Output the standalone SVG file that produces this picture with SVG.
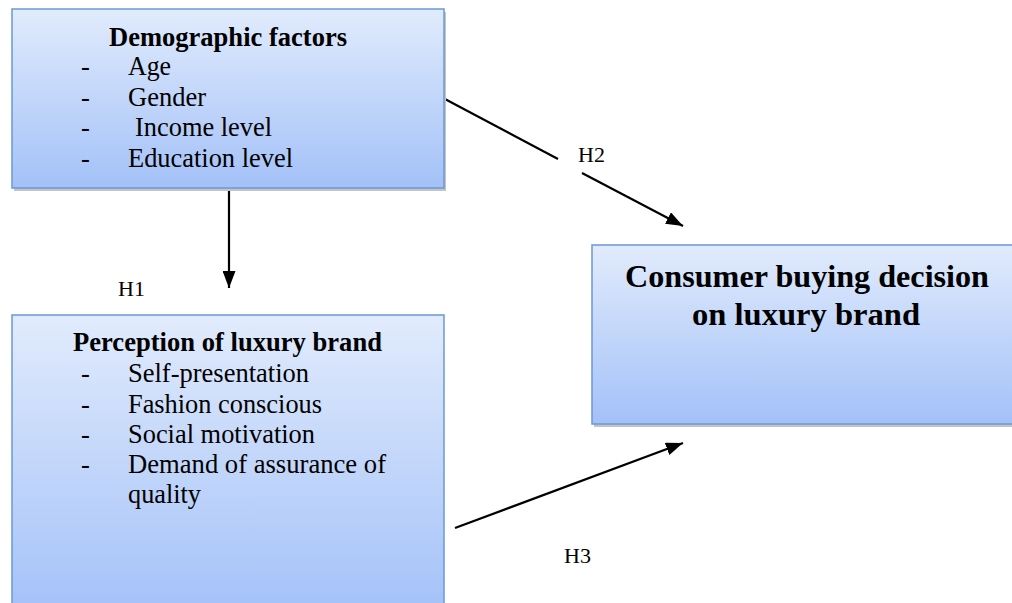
<svg xmlns="http://www.w3.org/2000/svg" width="1012" height="603" viewBox="0 0 1012 603">
<defs>
<linearGradient id="g" x1="0" y1="0" x2="0" y2="1">
<stop offset="0" stop-color="#e1ebfc"/>
<stop offset="1" stop-color="#a3c1f8"/>
</linearGradient>
<marker id="ah" viewBox="0 0 17 13" refX="17" refY="6.5" markerWidth="17" markerHeight="13" markerUnits="userSpaceOnUse" orient="auto">
<path d="M0,0 L17,6.5 L0,13 Z" fill="#000"/>
</marker>
<style>
.box{fill:url(#g);stroke:#6a98d8;stroke-width:1.5}
.sh{fill:#c4c4c4}
.t{font-family:"Liberation Serif","Times New Roman",serif;font-size:26.5px;fill:#000}
.b{font-weight:bold}
.big{font-size:32px}
.h{font-family:"Liberation Serif","Times New Roman",serif;font-size:22px;fill:#000}
.ln{stroke:#000;stroke-width:2.2;fill:none}
</style>
</defs>
<g id="connectors">
<line class="ln" x1="229" y1="189" x2="229" y2="288" marker-end="url(#ah)"/>
<line class="ln" x1="443" y1="98" x2="558" y2="159"/>
<line class="ln" x1="582" y1="173" x2="683" y2="226" marker-end="url(#ah)"/>
<line class="ln" x1="455" y1="528" x2="683" y2="443" marker-end="url(#ah)"/>
<text class="h" x="578" y="162">H2</text>
<text class="h" x="118" y="296">H1</text>
<text class="h" x="564" y="563">H3</text>
</g>
<g id="demographic">
<rect class="sh" x="14" y="12" width="432" height="179"/>
<rect class="box" x="12" y="9" width="432" height="179"/>
<text class="t b" x="109" y="46" textLength="238" lengthAdjust="spacingAndGlyphs">Demographic factors</text>
<text class="t" x="81" y="75">-</text><text class="t" x="128" y="75" textLength="43" lengthAdjust="spacingAndGlyphs">Age</text>
<text class="t" x="81" y="106">-</text><text class="t" x="128" y="106" textLength="78" lengthAdjust="spacingAndGlyphs">Gender</text>
<text class="t" x="81" y="136">-</text><text class="t" x="135" y="136" textLength="137" lengthAdjust="spacingAndGlyphs">Income level</text>
<text class="t" x="81" y="167">-</text><text class="t" x="128" y="167" textLength="165" lengthAdjust="spacingAndGlyphs">Education level</text>
</g>
<g id="perception">
<rect class="box" x="12" y="315" width="432" height="300"/>
<text class="t b" x="73" y="351" textLength="309" lengthAdjust="spacingAndGlyphs">Perception of luxury brand</text>
<text class="t" x="81" y="382">-</text><text class="t" x="128" y="382" textLength="181" lengthAdjust="spacingAndGlyphs">Self-presentation</text>
<text class="t" x="81" y="413">-</text><text class="t" x="128" y="413" textLength="194" lengthAdjust="spacingAndGlyphs">Fashion conscious</text>
<text class="t" x="81" y="443">-</text><text class="t" x="128" y="443" textLength="187" lengthAdjust="spacingAndGlyphs">Social motivation</text>
<text class="t" x="81" y="473">-</text><text class="t" x="128" y="473" textLength="258" lengthAdjust="spacingAndGlyphs">Demand of assurance of</text>
<text class="t" x="128" y="503" textLength="73" lengthAdjust="spacingAndGlyphs">quality</text>
</g>
<g id="decision">
<rect class="sh" x="594" y="248" width="430" height="179"/>
<rect class="box" x="592" y="245" width="430" height="179"/>
<text class="t b big" x="625" y="287" textLength="364" lengthAdjust="spacingAndGlyphs">Consumer buying decision</text>
<text class="t b big" x="692" y="325" textLength="228" lengthAdjust="spacingAndGlyphs">on luxury brand</text>
</g>
</svg>
